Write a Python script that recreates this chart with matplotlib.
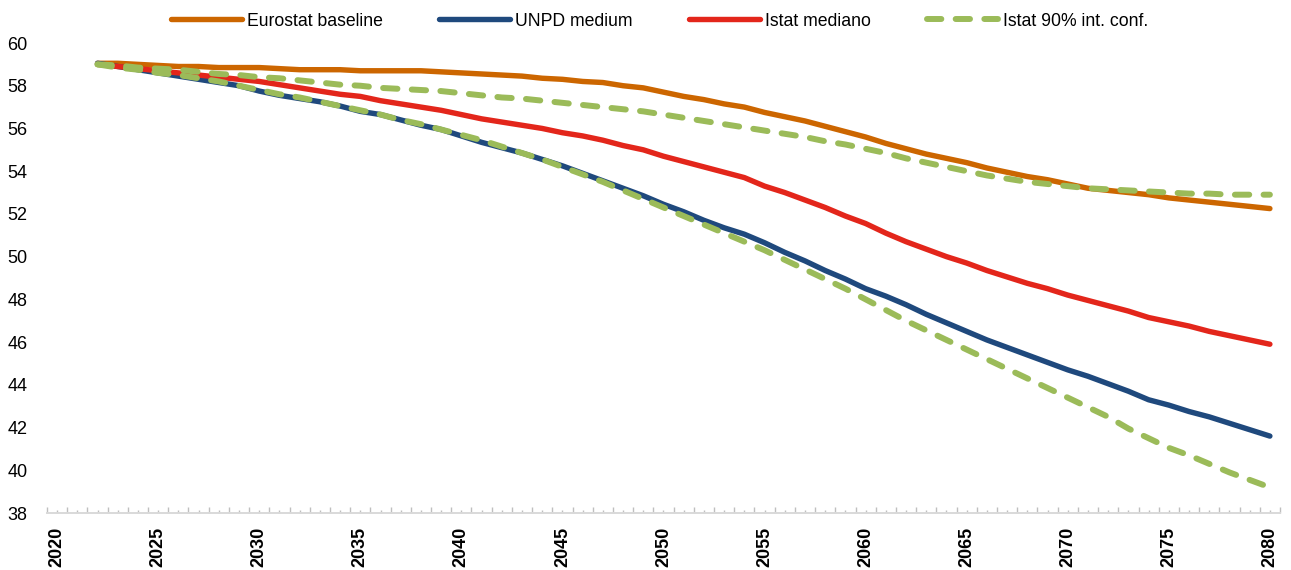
import matplotlib
matplotlib.use("Agg")
import matplotlib.pyplot as plt
from matplotlib import font_manager
from matplotlib.ticker import FixedLocator

years = list(range(2022, 2081))

eurostat_baseline = [59.05, 59.05, 59.0, 58.95, 58.9, 58.9, 58.85, 58.85, 58.85, 58.8,
                     58.75, 58.75, 58.75, 58.7, 58.7, 58.7, 58.7, 58.65, 58.6, 58.55,
                     58.5, 58.45, 58.35, 58.3, 58.2, 58.15, 58.0, 57.9, 57.7, 57.5,
                     57.35, 57.15, 57.0, 56.75, 56.55, 56.35, 56.1, 55.85, 55.6, 55.3,
                     55.05, 54.8, 54.6, 54.4, 54.15, 53.95, 53.75, 53.6, 53.4, 53.2,
                     53.1, 53.0, 52.9, 52.75, 52.65, 52.55, 52.45, 52.35, 52.25]

unpd_medium = [59.05, 58.9, 58.75, 58.6, 58.45, 58.3, 58.15, 58.0, 57.75, 57.55,
               57.4, 57.25, 57.05, 56.8, 56.65, 56.4, 56.15, 55.95, 55.65, 55.35,
               55.1, 54.85, 54.55, 54.25, 53.9, 53.55, 53.2, 52.85, 52.45, 52.1,
               51.7, 51.35, 51.05, 50.65, 50.2, 49.8, 49.35, 48.95, 48.5, 48.15,
               47.75, 47.3, 46.9, 46.5, 46.1, 45.75, 45.4, 45.05, 44.7, 44.4,
               44.05, 43.7, 43.3, 43.05, 42.75, 42.5, 42.2, 41.9, 41.6]

istat_mediano = [59.0, 58.9, 58.8, 58.7, 58.6, 58.5, 58.4, 58.3, 58.2, 58.05,
                 57.9, 57.75, 57.6, 57.5, 57.3, 57.15, 57.0, 56.85, 56.65, 56.45,
                 56.3, 56.15, 56.0, 55.8, 55.65, 55.45, 55.2, 55.0, 54.7, 54.45,
                 54.2, 53.95, 53.7, 53.3, 53.0, 52.65, 52.3, 51.9, 51.55, 51.1,
                 50.7, 50.35, 50.0, 49.7, 49.35, 49.05, 48.75, 48.5, 48.2, 47.95,
                 47.7, 47.45, 47.15, 46.95, 46.75, 46.5, 46.3, 46.1, 45.9]

istat_upper = [59.0, 58.95, 58.85, 58.8, 58.75, 58.65, 58.55, 58.5, 58.4, 58.35,
               58.25, 58.15, 58.05, 58.0, 57.9, 57.85, 57.8, 57.75, 57.65, 57.55,
               57.45, 57.4, 57.3, 57.2, 57.1, 57.0, 56.9, 56.8, 56.65, 56.5,
               56.35, 56.2, 56.05, 55.9, 55.75, 55.6, 55.4, 55.25, 55.05, 54.85,
               54.6, 54.4, 54.2, 54.0, 53.8, 53.65, 53.5, 53.4, 53.3, 53.2,
               53.15, 53.1, 53.05, 53.0, 52.95, 52.95, 52.9, 52.9, 52.9]

istat_lower = [59.0, 58.85, 58.75, 58.6, 58.5, 58.35, 58.2, 58.0, 57.8, 57.6,
               57.45, 57.25, 57.05, 56.85, 56.65, 56.4, 56.2, 55.95, 55.7, 55.45,
               55.15, 54.85, 54.55, 54.2, 53.85, 53.5, 53.1, 52.7, 52.3, 51.9,
               51.5, 51.1, 50.7, 50.3, 49.85, 49.4, 48.95, 48.5, 48.0, 47.5,
               47.0, 46.55, 46.1, 45.65, 45.2, 44.75, 44.3, 43.85, 43.4, 42.95,
               42.5, 41.95, 41.5, 41.05, 40.7, 40.3, 39.9, 39.55, 39.2]

labels = ["Eurostat baseline", "UNPD medium", "Istat mediano", "Istat 90% int. conf."]
colors = ["#CC6600", "#1F497D", "#E3261B", "#9BBB59"]

y_ticks = list(range(38, 61, 2))
cat_years = list(range(2020, 2081))
x_label_years = list(range(2020, 2081, 5))

names = {f.name for f in font_manager.fontManager.ttflist}
if "Liberation Sans Narrow" in names:
    xfam, xsize = "Liberation Sans Narrow", 16
else:
    xfam, xsize = "Liberation Sans", 13

plt.rcParams["font.family"] = ["Liberation Sans", "DejaVu Sans"]

fig = plt.figure(figsize=(12.91, 5.70), dpi=100)
W, H = 1291, 570
ax = fig.add_axes([47 / W, (H - 513) / H, (1280 - 47) / W, (513 - 43) / H])

lw = 3.9
ax.plot(years, eurostat_baseline, color=colors[0], lw=lw, solid_capstyle="round",
        label=labels[0], zorder=2)
ax.plot(years, unpd_medium, color=colors[1], lw=lw, solid_capstyle="round",
        label=labels[1], zorder=3)
ax.plot(years, istat_mediano, color=colors[2], lw=lw, solid_capstyle="round",
        label=labels[2], zorder=4)
ax.plot(years, istat_upper, color=colors[3], lw=4.3, dash_capstyle="round",
        dashes=(2.4, 2.4), label=labels[3], zorder=5)
ax.plot(years, istat_lower, color=colors[3], lw=4.3, dash_capstyle="round",
        dashes=(2.4, 2.4), zorder=5)

ax.set_xlim(2019.5, 2080.5)
ax.set_ylim(38, 60)

for s in ["top", "right", "left"]:
    ax.spines[s].set_visible(False)
ax.spines["bottom"].set_color("#D9D9D9")
ax.spines["bottom"].set_linewidth(1.4)

ax.set_yticks(y_ticks)
ax.set_yticklabels([str(v) for v in y_ticks])
ax.tick_params(axis="y", length=0, pad=14, labelsize=13, labelcolor="#000000")

# x: short ticks at category centres (labels every 5 years), taller at boundaries
ax.xaxis.set_major_locator(FixedLocator(cat_years))
ax.set_xticklabels([str(v) if v in x_label_years else "" for v in cat_years],
                   rotation=90, fontfamily=[xfam, "DejaVu Sans"],
                   fontweight="bold", fontsize=xsize)
ax.tick_params(axis="x", which="major", direction="in", length=2.2, width=1.0,
               color="#BFBFBF", pad=10)
ax.xaxis.set_minor_locator(FixedLocator([y + 0.5 for y in range(2019, 2081)]))
ax.tick_params(axis="x", which="minor", direction="in", length=4.2, width=1.0,
               color="#BFBFBF")
for lab in ax.get_xticklabels():
    lab.set_verticalalignment("top")

leg = fig.legend(loc="center", bbox_to_anchor=(0.511, 1 - 21 / H), ncol=4,
                 frameon=False, fontsize=12.7, handlelength=4.0, handletextpad=0.3,
                 columnspacing=3.2, borderaxespad=0)

fig.savefig("out.png", dpi=100)
